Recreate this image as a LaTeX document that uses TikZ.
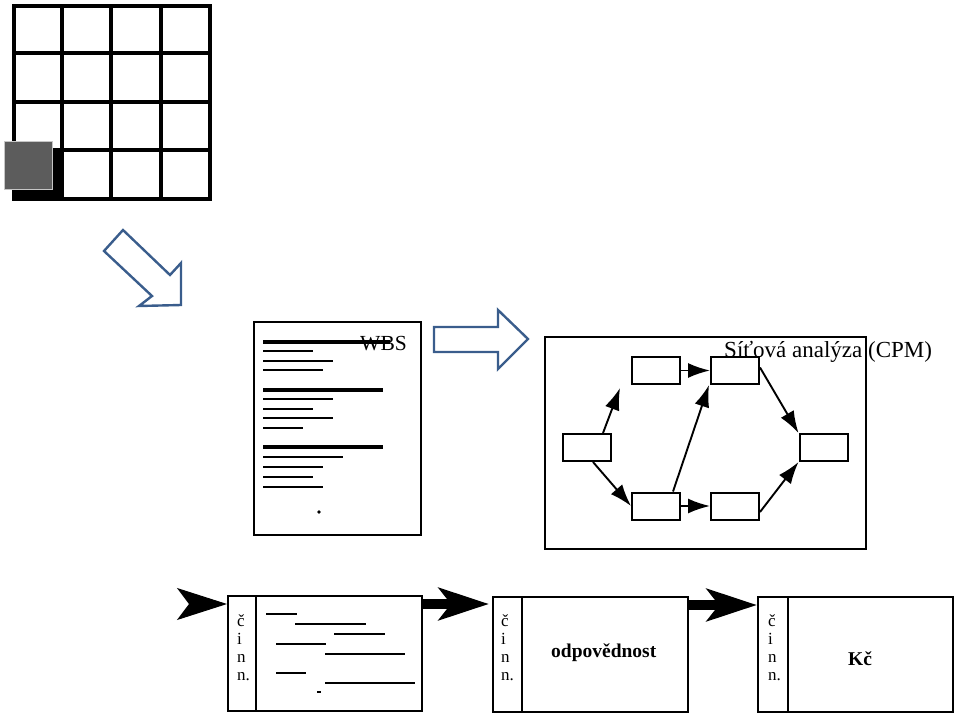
\documentclass[tikz,border=0pt]{standalone}
\usepackage{fontspec}
\setmainfont{Liberation Serif}
\usetikzlibrary{arrows.meta}
\definecolor{arrowblue}{RGB}{58,93,140}
\definecolor{stipple}{RGB}{92,92,92}
\begin{document}
\begin{tikzpicture}[x=1pt,y=-1pt,
  gridline/.style={line width=3.8pt},
  hollow/.style={draw=arrowblue, line width=2.4pt, fill=white, line join=miter},
  docline/.style={line width=1.9pt},
  docthick/.style={line width=3.2pt},
  cbox/.style={draw, line width=2pt, minimum width=48pt, minimum height=27pt, inner sep=0pt},
  cpmarrow/.style={line width=1.9pt, -{Latex[length=22pt,width=15pt]}},
  tbox/.style={draw, line width=2pt, minimum width=195pt, minimum height=115pt, inner sep=0pt},
  bigarrow/.style={line width=10pt, -{Stealth[length=50pt,width=32pt,inset=12pt]}},
  bighead/.style={line width=1pt, shorten <=12pt, -{Stealth[length=50pt,width=32pt,inset=12pt]}},
  colt/.style={anchor=north west, align=left, inner sep=0pt, font=\fontsize{17}{18}\selectfont},
  bar/.style={line width=1.9pt}
]
\useasboundingbox (0,0) rectangle (960,717);

% ---- grid ----
\foreach \x in {14,62,111,161,210} \draw[gridline] (\x,6) -- (\x,199);
\foreach \y in {6,53,102,150,199} \draw[gridline] (12.1,\y) -- (211.9,\y);
\fill[black] (12.1,148.5) rectangle (63.9,200.9);
\fill[stipple, draw=gray!45, line width=0.8pt] (4,141) rectangle (52,189);

% ---- diagonal hollow arrow ----
\draw[hollow] (104,251) -- (123,230) -- (170,275) -- (181,263) -- (181,305) -- (139,306) -- (152,296) -- cycle;

% ---- WBS document ----
\node[draw, line width=2pt, minimum width=167pt, minimum height=213pt, inner sep=0pt] (doc) at (337.5,428.5) {};
\draw[docthick] (263,342) -- (390,342);
\draw[docline] (263,351) -- (313,351);
\draw[docline] (263,361) -- (333,361);
\draw[docline] (263,370) -- (323,370);
\draw[docthick] (263,390) -- (383,390);
\draw[docline] (263,399) -- (333,399);
\draw[docline] (263,409) -- (313,409);
\draw[docline] (263,418) -- (333,418);
\draw[docline] (263,428) -- (303,428);
\draw[docthick] (263,447) -- (383,447);
\draw[docline] (263,457) -- (343,457);
\draw[docline] (263,467) -- (323,467);
\draw[docline] (263,477) -- (313,477);
\draw[docline] (263,487) -- (323,487);
\fill (319,512) circle (1.8pt);
\node[anchor=base west, inner sep=0pt, font=\fontsize{21.5}{24}\selectfont] (wbs) at (360,350) {WBS};

% ---- right hollow arrow ----
\draw[hollow] (434,327) -- (498,327) -- (498,310) -- (528,339) -- (498,369) -- (498,352) -- (434,352) -- cycle;

% ---- CPM ----
\node[draw, line width=2pt, minimum width=321pt, minimum height=212pt, inner sep=0pt] (cpm) at (705.5,443) {};
\node[anchor=base west, inner sep=0pt, font=\fontsize{23}{25}\selectfont] (cpmt) at (724,357) {Síťová analýza (CPM)};
\node[cbox] (A) at (587,447.5) {};
\node[cbox] (B) at (656,370.5) {};
\node[cbox] (C) at (735,370.5) {};
\node[cbox] (D) at (656,506) {};
\node[cbox] (E) at (735,506) {};
\node[cbox] (F) at (823.5,447.5) {};
\draw[cpmarrow] ([xshift=-9pt]A.north east) -- ([shift={(-11pt,-3pt)}]B.south west);
\draw[cpmarrow] ([xshift=-19pt]A.south east) -- (D.west);
\draw[cpmarrow] (B.east) -- (C.west);
\draw[cpmarrow] ([xshift=-8pt]D.north east) -- ([xshift=-1pt]C.south west);
\draw[cpmarrow] (D.east) -- (E.west);
\draw[cpmarrow] ([yshift=3pt]C.east) -- (F.north west);
\draw[cpmarrow] ([yshift=-6pt]E.east) -- (F.south west);

% ---- bottom row ----
\node[tbox, minimum width=194pt] (t1) at (325,653.5) {};
\node[tbox] (t2) at (590.5,654.5) {};
\node[tbox] (t3) at (855.5,654.5) {};
\draw[line width=2pt] (256,596) -- (256,711);
\draw[line width=2pt] (522,597) -- (522,712);
\draw[line width=2pt] (788,597) -- (788,712);
\node[colt] (c1) at (237,614) {č\\i\\n\\n.};
\node[colt] (c2) at (501,614) {č\\i\\n\\n.};
\node[colt] (c3) at (768,614) {č\\i\\n\\n.};
\draw[bar] (266,614) -- (297,614);
\draw[bar] (295,624) -- (366,624);
\draw[bar] (334,634) -- (385,634);
\draw[bar] (276,644) -- (326,644);
\draw[bar] (325,654) -- (405,654);
\draw[bar] (276,673) -- (306,673);
\draw[bar] (325,683) -- (415,683);
\draw[line width=1.2pt] (317,692) -- (321,692);
\node[anchor=base west, inner sep=0pt, font=\bfseries\fontsize{19.5}{22}\selectfont] (odp) at (551,657) {odpovědnost};
\node[anchor=base west, inner sep=0pt, font=\bfseries\fontsize{19.5}{22}\selectfont] (kc) at (848,665) {Kč};

\coordinate (in) at (178,604);
\draw[bighead] (in) -- (t1.west |- in);
\draw[bigarrow, shorten >=3pt] (t1.east |- in) -- (t2.west |- in);
\draw[bigarrow] (t2.east |- 0,605) -- (t3.west |- 0,605);
\end{tikzpicture}
\end{document}
